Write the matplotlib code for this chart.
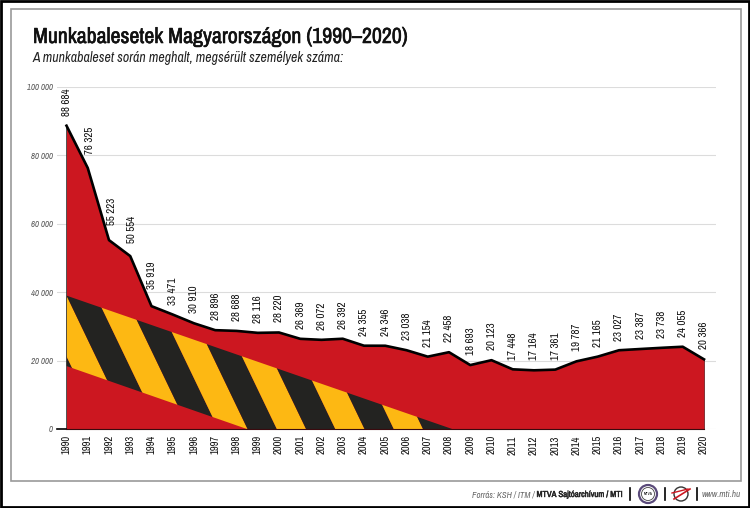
import matplotlib
matplotlib.use('Agg')
import matplotlib.pyplot as plt
import matplotlib.patches as patches
import matplotlib.patheffects as pe

# --------------------------------------------------------------------------
# Data
# --------------------------------------------------------------------------
years = list(range(1990, 2021))
accidents = [88684, 76325, 55223, 50554, 35919, 33471, 30910, 28896, 28688, 28116,
             28220, 26369, 26072, 26392, 24355, 24346, 23038, 21154, 22458, 18693,
             20123, 17448, 17164, 17361, 19787, 21165, 23027, 23387, 23738, 24055,
             20366]
y_ticks = [0, 20000, 40000, 60000, 80000, 100000]
y_tick_labels = ['0', '20 000', '40 000', '60 000', '80 000', '100 000']

# hazard band
band_top = [(1990, 39000), (2008.15, 0)]
band_bottom = [(1990, 18400), (1998.49, 0)]
stripe_start = 1991.64      # where the first yellow stripe meets y=0
stripe_width = 1.376
stripe_slant = 0.7726       # years per 10000 going up (leans left)

RED = '#CC1720'
YELLOW = '#FDB813'
BLACK = '#232321'
FONT = ['Archivo Narrow', 'Roboto Condensed', 'Liberation Sans']

W, H = 750, 508
fig = plt.figure(figsize=(W / 100, H / 100), dpi=100)

# overlay in pixel coords for frame, logos
bg = fig.add_axes([0, 0, 1, 1])
bg.set_xlim(0, W)
bg.set_ylim(H, 0)
bg.axis('off')
bg.add_patch(patches.Rectangle((0.5, 0.5), W - 2, H - 2, fc='white', ec='black', lw=2))
bg.add_patch(patches.Rectangle((10.5, 9), 730, 472, fc='white', ec='#9a9a9a', lw=1.2))

# --------------------------------------------------------------------------
# Chart
# --------------------------------------------------------------------------
left, right, top, bottom = 57, 716, 87, 429
ax = fig.add_axes([left / W, 1 - bottom / H, (right - left) / W, (bottom - top) / H])
ax.patch.set_alpha(0)
px_per_year = 21.25
ax.set_xlim(1990 - (66.5 - left) / px_per_year, 2020 + (right - 704) / px_per_year)
ax.set_ylim(0, 100000)
for s in ax.spines.values():
    s.set_visible(False)

ax.set_yticks(y_ticks)
ax.set_yticklabels(y_tick_labels, fontsize=6.3, style='italic', color='#555555', family=FONT)
ax.set_xticks(years)
ax.set_xticklabels(years, rotation=90, fontsize=7.6, family=FONT, color='#111111')
ax.tick_params(axis='both', length=0)
ax.tick_params(axis='x', pad=4.5)
ax.tick_params(axis='y', pad=3)
ax.grid(axis='y', color='#dcdcdc', lw=0.8)
ax.set_axisbelow(True)

ax.fill_between(years, accidents, 0, color=RED, lw=0, zorder=2)

# hazard stripes, clipped to the band
band = patches.Polygon([band_top[0], band_top[1], band_bottom[1], band_bottom[0]],
                       closed=True, transform=ax.transData, fc='none', ec='none')
ax.add_patch(band)
n_stripes = 13
for i in range(-1, n_stripes - 1):
    x0 = stripe_start + i * stripe_width
    x1 = x0 + stripe_width
    h = 45000
    lean = stripe_slant * h / 10000
    colour = BLACK if i % 2 else YELLOW
    p = ax.fill([x0, x1, x1 - lean, x0 - lean], [0, 0, h, h], color=colour, lw=0, zorder=3)[0]
    p.set_clip_path(band)

ax.plot(years, accidents, color='black', lw=1.9, zorder=5, solid_joinstyle='round')
ax.plot([1990, 1990], [0, accidents[0]], color='#333333', lw=0.6, zorder=4)
ax.plot([2020, 2020], [0, accidents[-1]], color='#5a1015', lw=0.5, zorder=4)
ax.plot([ax.get_xlim()[0], 1990], [0, 0], color='black', lw=1.2, zorder=5, clip_on=False)
ax.plot([1990, 2020], [0, 0], color='#3a0a0e', lw=0.8, zorder=5, clip_on=False)

# value labels sit above the line, the steep start needs them moved (px)
label_nudge = {1991: (2, 14), 1992: (2.7, 15), 1993: (2, 13), 1994: (1, 17),
               2011: (0.5, 9), 2016: (0.5, 9)}
for year, val in zip(years, accidents):
    txt = f'{val // 1000} {val % 1000:03d}'
    dx, dy = label_nudge.get(year, (0.5, 10))
    ax.annotate(txt, (year, val), xytext=(dx * 0.72, dy * 0.72),
                textcoords='offset points', rotation=90, ha='center', va='bottom',
                fontsize=7.9, family=FONT, color='#111111', zorder=6)

# --------------------------------------------------------------------------
# Titles and footer
# --------------------------------------------------------------------------
bg.text(33, 43, 'Munkabalesetek Magyarországon (1990–2020)', fontsize=15.7, family=FONT,
        color='#111111', va='baseline',
        path_effects=[pe.withStroke(linewidth=0.4, foreground='#111111')])
bg.text(33, 62, 'A munkabaleset során meghalt, megsérült személyek száma:', fontsize=10,
        family=FONT, style='italic', color='#222222', va='baseline')

bg.text(534.5, 497, 'Forrás: KSH / ITM /', fontsize=6.4, family=FONT, style='italic',
        color='#666666', ha='right', va='baseline')
bg.text(622, 497, 'MTVA Sajtóarchívum / MTI', fontsize=6.3, family=FONT,
        color='#222222', ha='right', va='baseline',
        path_effects=[pe.withStroke(linewidth=0.3, foreground='#222222')])
bg.text(741, 497, 'www.mti.hu', fontsize=6.6, family=FONT, style='italic',
        color='#666666', ha='right', va='baseline')
for x in [630, 665, 697]:
    bg.plot([x, x], [488, 500], color='black', lw=1.2)

# logos
bg.add_patch(patches.Circle((648, 494), 9, fc='white', ec='#5a4a7a', lw=1.6))
bg.add_patch(patches.Circle((648, 494), 6.5, fc='white', ec='#444444', lw=0.6))
bg.text(648, 494, 'MTVA', fontsize=2.8, family=FONT, ha='center', va='center')
bg.add_patch(patches.Circle((681, 494), 7, fc='none', ec='#333333', lw=1))
bg.plot([674, 690], [499, 489], color='#CC1720', lw=1.2)
bg.plot([672, 688], [493, 489], color='#CC1720', lw=1)

fig.savefig('out.png', dpi=100)
